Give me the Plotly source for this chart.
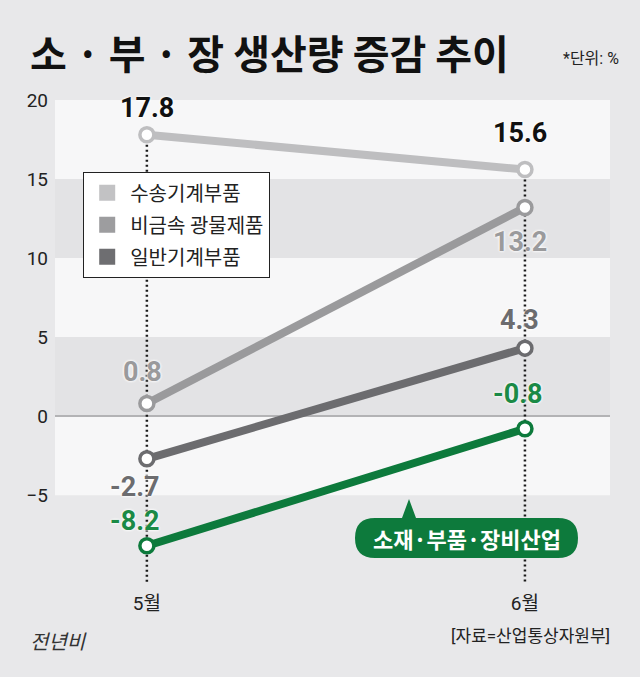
import plotly.graph_objects as go

# ── data ───────────────────────────────────────────────────────────────────────
months = ["5월", "6월"]
series_names = ["수송기계부품", "비금속 광물제품", "일반기계부품", "소재·부품·장비산업"]
transport_parts = [17.8, 15.6]
nonmetal_minerals = [0.8, 13.2]
general_machinery = [-2.7, 4.3]
mpe_industry = [-8.2, -0.8]
series_values = [transport_parts, nonmetal_minerals, general_machinery, mpe_industry]
y_ticks = [20, 15, 10, 5, 0, -5]

# ── style ──────────────────────────────────────────────────────────────────────
W, H = 640, 677
L, R, T, B = 55, 30, 100, 87
Y_RANGE = [-11, 20]
X_RANGE = [-0.243, 1.225]
DOT_BOTTOM = -10.6

_PAGE = "#e8e8ea"
_BAND_W = "#f7f7f8"
_BAND_G = "#e3e3e5"
_TEXT = "#222222"
_GREEN = "#0d7a3c"
_KR = "Noto Sans CJK KR"
_NUM = "Liberation Sans Narrow, Roboto, Noto Sans CJK KR, sans-serif"

line_colors = ["#bebec0", "#9a9a9c", "#6c6c6f", _GREEN]
legend_colors = ["#c2c2c4", "#9d9d9f", "#6e6e71"]
label_colors = ["#111111", "#9a9a9c", "#6c6c6f", "#1b8a46"]
# (xshift, yshift) for each value label, per series, per month
label_shift = [
    [(0, 27), (-5, 37)],
    [(-4, 31), (-5, -35)],
    [(-12, -28), (-5, 28)],
    [(-12, 25), (-7, 35)],
]


def px(x):
    return (x - L) / (W - L - R)


def py(y):
    return (H - B - y) / (H - T - B)


fig = go.Figure()

# dotted month guides, from the highest value down to the axis foot
for i, m in enumerate(months):
    top = max(v[i] for v in series_values)
    fig.add_trace(go.Scatter(
        x=[m, m], y=[top, DOT_BOTTOM], mode="lines",
        line={"color": "#1a1a1a", "width": 2.5, "dash": "2px,3px"},
        showlegend=False, hoverinfo="skip",
    ))

for name, vals, col in zip(series_names, series_values, line_colors):
    fig.add_trace(go.Scatter(
        x=months, y=vals, mode="lines+markers", name=name,
        line={"color": col, "width": 8},
        marker={"size": 14, "color": "white", "line": {"color": col, "width": 3.5}},
        showlegend=False, cliponaxis=False,
    ))

# legend entries (squares)
for i, (name, col) in enumerate(zip(series_names[:3], legend_colors)):
    fig.add_trace(go.Scatter(
        x=[None], y=[None], mode="markers", name=name, legendgroup=f"g{i}",
        marker={"symbol": "square", "size": 16, "color": col},
    ))

# alternating bands
bands = [(20, 15, _BAND_W), (15, 10, _BAND_G), (10, 5, _BAND_W), (5, 0, _BAND_G), (0, -5, _BAND_W)]
for y0, y1, c in bands:
    fig.add_shape(type="rect", xref="paper", yref="y", x0=0, x1=1, y0=y0, y1=y1,
                  fillcolor=c, line_width=0, layer="below")

# value labels
for vals, col, shifts in zip(series_values, label_colors, label_shift):
    for m, v, (dx, dy) in zip(months, vals, shifts):
        fig.add_annotation(
            x=m, y=v, text=f"<b>{v}</b>", showarrow=False, xshift=dx, yshift=dy,
            font={"family": "Roboto, sans-serif", "size": 27, "color": col,
                  "shadow": "0px 0px 3px #ffffff, 0px 0px 3px #ffffff"},
        )


# green callout with pointer
def _pill(x0, x1, y0, y1, tip_x, tip_y, half):
    r = (y1 - y0) / 2
    pts = [
        f"M{px(x0 + r)},{py(y0)}",
        f"L{px(tip_x - half)},{py(y0)}",
        f"L{px(tip_x)},{py(tip_y)}",
        f"L{px(tip_x + half)},{py(y0)}",
        f"L{px(x1 - r)},{py(y0)}",
        f"Q{px(x1)},{py(y0)} {px(x1)},{py(y0 + r)}",
        f"Q{px(x1)},{py(y1)} {px(x1 - r)},{py(y1)}",
        f"L{px(x0 + r)},{py(y1)}",
        f"Q{px(x0)},{py(y1)} {px(x0)},{py(y0 + r)}",
        f"Q{px(x0)},{py(y0)} {px(x0 + r)},{py(y0)}",
        "Z",
    ]
    return " ".join(pts)


def note(x, y, text, font, xanchor="center"):
    fig.add_annotation(x=px(x), y=py(y), xref="paper", yref="paper",
                       xanchor=xanchor, yanchor="middle", text=text,
                       showarrow=False, font=font)


fig.add_shape(type="path", xref="paper", yref="paper",
              path=_pill(355, 578, 518, 558, 409, 499, 7),
              fillcolor=_GREEN, line_width=0)
note(467, 538, f"<b>{series_names[3]}</b>", {"family": _KR, "size": 22, "color": "white"})

# title and notes
note(28, 52, "<b>소 · 부 · 장 생산량 증감 추이</b>",
     {"family": _KR, "size": 40, "color": "#111111"}, "left")
note(621, 58, "*단위: %", {"family": _NUM, "size": 16, "color": _TEXT}, "right")
note(28, 640, "<i>전년비</i>", {"family": _KR, "size": 20, "color": "#333333"}, "left")
note(612, 636, "[자료=산업통상자원부]", {"family": _NUM, "size": 17, "color": _TEXT}, "right")

fig.update_layout(
    width=W, height=H,
    margin={"l": L, "r": R, "t": T, "b": B},
    paper_bgcolor=_PAGE, plot_bgcolor=_PAGE,
    font={"family": _NUM, "color": _TEXT, "size": 19},
    xaxis={"range": X_RANGE, "showgrid": False, "zeroline": False, "showline": False,
           "ticks": "", "fixedrange": True, "tickfont": {"size": 19}},
    yaxis={"range": Y_RANGE, "tickvals": y_ticks, "showgrid": False,
           "zeroline": True, "zerolinecolor": "#b3b3b5", "zerolinewidth": 2,
           "showline": False, "ticks": "", "ticklabelstandoff": 6,
           "tickfont": {"size": 19}},
    legend={"x": px(83), "y": py(172), "xanchor": "left", "yanchor": "top",
            "bgcolor": "white", "bordercolor": "#222222", "borderwidth": 1.2,
            "font": {"family": _KR, "size": 20, "color": _TEXT},
            "traceorder": "grouped", "tracegroupgap": 3, "itemwidth": 36},
    showlegend=True,
)

fig.write_html("out.html", config={"displayModeBar": False},
               post_script="document.body.style.margin='0';")
